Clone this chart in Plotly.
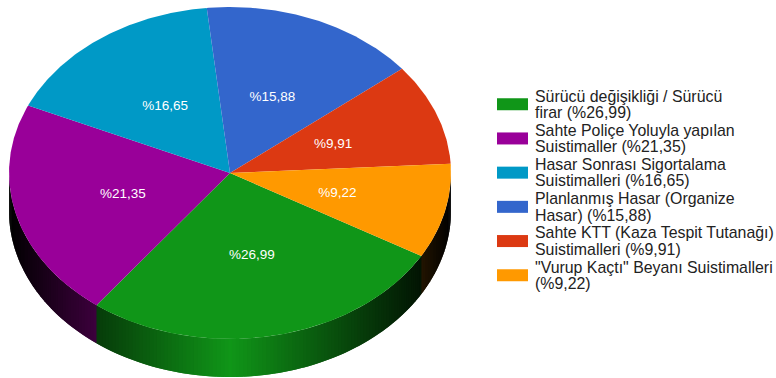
import math
import plotly.graph_objects as go

# Fraud categories, their shares (percent) and palette
legend_lines = [
    ["Sürücü değişikliği / Sürücü", "firar (%26,99)"],
    ["Sahte Poliçe Yoluyla yapılan", "Suistimaller (%21,35)"],
    ["Hasar Sonrası Sigortalama", "Suistimalleri (%16,65)"],
    ["Planlanmış Hasar (Organize", "Hasar) (%15,88)"],
    ["Sahte KTT (Kaza Tespit Tutanağı)", "Suistimalleri (%9,91)"],
    ["\"Vurup Kaçtı\" Beyanı Suistimalleri", "(%9,22)"],
]
shares = [26.99, 21.35, 16.65, 15.88, 9.91, 9.22]
share_labels = ["%26,99", "%21,35", "%16,65", "%15,88", "%9,91", "%9,22"]
colors = ["#109618", "#990099", "#0099C6", "#3366CC", "#DC3912", "#FF9900"]

# Tilted-disc geometry, in pixels of a 776x378 canvas
WIDTH, HEIGHT = 776, 378
CX, CY, RX, RY = 230, 173, 221, 166
DEPTH = 38
START_DEG = 120  # clockwise from 12 o'clock
WALL_STEP = 1.0  # angular width of one side-wall strip
LABEL_DROP = 1.0  # optical centring of the percentage labels


def rim(angle_deg, drop=0.0, scale=1.0):
    a = math.radians(angle_deg)
    return CX + scale * RX * math.sin(a), CY - scale * RY * math.cos(a) + drop


def shaded(hex_color, factor):
    rgb = [int(hex_color[i:i + 2], 16) for i in (1, 3, 5)]
    return "rgb({},{},{})".format(*[round(c * factor) for c in rgb])


# Angular extents of the slices
edges = [START_DEG]
for share in shares:
    edges.append(edges[-1] + share * 3.6)

# Side-wall strips along the front rim, collected in rim order
strips = []
for i, color in enumerate(colors):
    for turn in (0, -360):
        lo = max(edges[i] + turn, 90)
        hi = min(edges[i + 1] + turn, 270)
        if hi <= lo:
            continue
        n = max(1, math.ceil((hi - lo) / WALL_STEP))
        for k in range(n):
            strips.append((lo + (hi - lo) * k / n, lo + (hi - lo) * (k + 1) / n, color))
strips.sort(key=lambda s: s[0])

fig = go.Figure()

# Each strip runs one step past its end so the next one paints over the seam;
# tone darkens linearly towards both edges of the disc
for a0, a1, color in strips:
    end = min(a1 + WALL_STEP, 270)
    x0, y0 = rim(a0)
    x1, y1 = rim(end)
    x2, y2 = rim(end, DEPTH)
    x3, y3 = rim(a0, DEPTH)
    mid_x = rim((a0 + a1) / 2)[0]
    tone = shaded(color, max(0.0, 1 - abs(mid_x - CX) / RX))
    fig.add_trace(go.Scatter(
        x=[x0, x1, x2, x3, x0], y=[y0, y1, y2, y3, y0],
        mode="lines", fill="toself", fillcolor=tone,
        line=dict(color=tone, width=0),
        hoverinfo="skip", showlegend=False,
    ))

# Top face of the disc
for i, color in enumerate(colors):
    n = max(2, math.ceil((edges[i + 1] - edges[i]) / 0.5))
    pts = [rim(edges[i] + (edges[i + 1] - edges[i]) * k / n) for k in range(n + 1)]
    xs = [CX] + [p[0] for p in pts] + [CX]
    ys = [CY] + [p[1] for p in pts] + [CY]
    fig.add_trace(go.Scatter(
        x=xs, y=ys, mode="lines", fill="toself", fillcolor=color,
        line=dict(color=color, width=0), name=legend_lines[i][0],
        text=share_labels[i], hoverinfo="text", showlegend=False,
    ))

# Percentage labels, halfway along each slice's bisector
label_pts = [rim((edges[i] + edges[i + 1]) / 2, drop=LABEL_DROP, scale=0.5) for i in range(len(shares))]
fig.add_trace(go.Scatter(
    x=[p[0] for p in label_pts], y=[p[1] for p in label_pts],
    mode="text", text=share_labels, textposition="middle center",
    textfont=dict(family="Liberation Sans, Arial, sans-serif", size=13.5, color="#ffffff"),
    hoverinfo="skip", showlegend=False,
))

# Legend: colour swatch plus two wrapped text lines per category
LEG_X0, LEG_X1, LEG_TEXT_X = 497, 528, 535
LEG_FIRST_Y, LEG_PITCH, LEG_LINE_GAP = 96.0, 34.2, 16.5
shapes, annotations = [], []
for i, (lines, color) in enumerate(zip(legend_lines, colors)):
    top = LEG_FIRST_Y + i * LEG_PITCH
    mid = top + LEG_LINE_GAP / 2
    shapes.append(dict(type="rect", xref="x", yref="y", x0=LEG_X0, x1=LEG_X1,
                       y0=mid - 6, y1=mid + 6, fillcolor=color, line=dict(width=0)))
    for j, line in enumerate(lines):
        annotations.append(dict(
            x=LEG_TEXT_X, y=top + j * LEG_LINE_GAP, xref="x", yref="y",
            text=line, showarrow=False, xanchor="left", yanchor="middle", xshift=-2,
            font=dict(family="Liberation Sans, Arial, sans-serif", size=15.9, color="#222222"),
        ))

fig.update_layout(
    width=WIDTH, height=HEIGHT, margin=dict(l=0, r=0, t=0, b=0),
    paper_bgcolor="#ffffff", plot_bgcolor="#ffffff", showlegend=False,
    xaxis=dict(range=[0, WIDTH], visible=False, fixedrange=True),
    yaxis=dict(range=[HEIGHT, 0], visible=False, fixedrange=True),
    shapes=shapes, annotations=annotations,
)

fig.write_html("out.html", config={"displayModeBar": False})
